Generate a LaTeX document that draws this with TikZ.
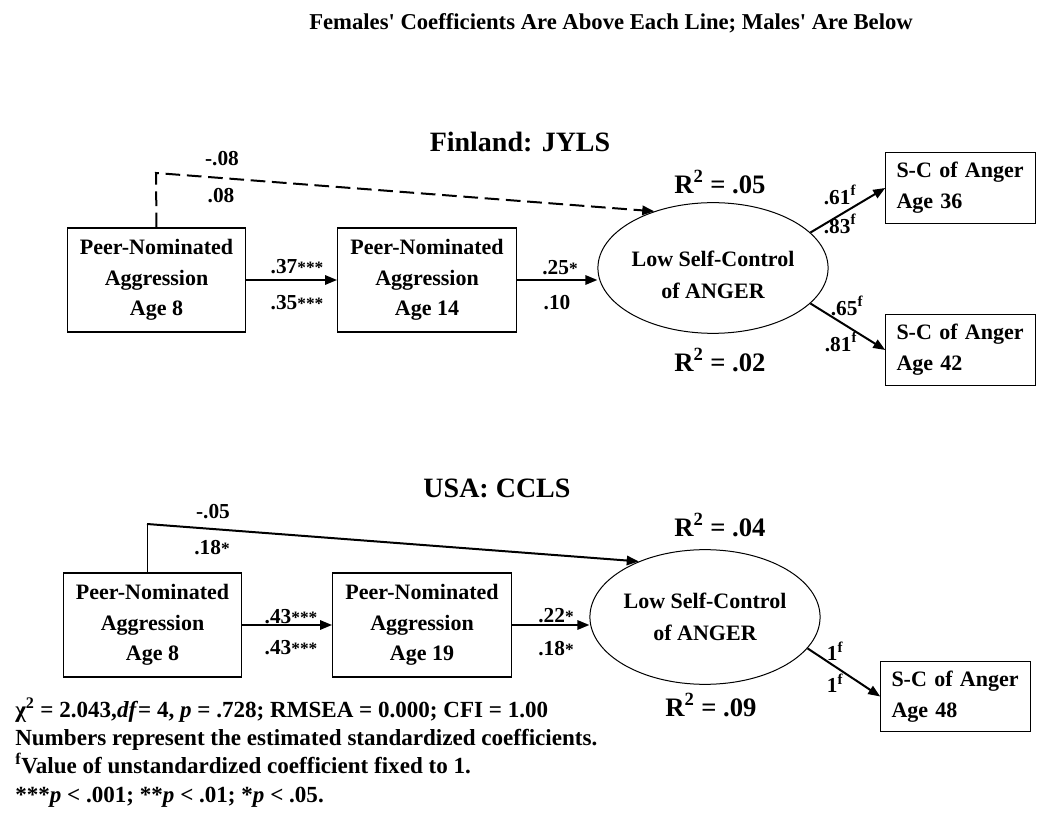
\documentclass[tikz,border=0pt]{standalone}
\usepackage{fontspec}
\setmainfont{Liberation Serif}
\usetikzlibrary{arrows.meta,shapes.geometric}
\newcommand{\sig}[1]{{\fontsize{13}{13}\selectfont #1}}

\begin{document}
\begin{tikzpicture}[x=0.75pt,y=0.75pt,yscale=-1,xscale=1,
  agg/.style={draw,line width=0.9pt,minimum width=134pt,minimum height=78pt,align=center,font=\bfseries\fontsize{16.5}{23}\selectfont},
  outc/.style={draw,line width=0.9pt,minimum width=112pt,minimum height=53pt,text width=96pt,inner xsep=8pt,inner ysep=4pt,align=left,font=\bfseries\fontsize{16.5}{23}\selectfont},
  lat/.style={draw,ellipse,line width=0.75pt,inner sep=0pt,align=center,font=\bfseries\fontsize{16.5}{24}\selectfont},
  coef/.style={inner sep=0.75pt,font=\bfseries\fontsize{16}{19}\selectfont},
  rsq/.style={inner sep=0.75pt,font=\bfseries\fontsize{20}{24}\selectfont},
  head/.style={inner sep=0.75pt,font=\bfseries\fontsize{21}{25}\selectfont},
  note/.style={anchor=base west,inner sep=0pt,font=\bfseries\fontsize{17.3}{21}\selectfont},
  arr/.style={line width=1.5pt,-{Triangle[length=9pt,width=7pt]}}
]
\useasboundingbox (0,0) rectangle (1050,837);

% Text Node
\node[inner sep=0.75pt,font=\bfseries\fontsize{17}{20}\selectfont] (ttl) at (611,23) {Females\textquotesingle{} Coefficients Are Above Each Line; Males\textquotesingle{} Are Below};

%Finland
\node[head] (fin) at (520,142) {Finland: JYLS};
%Shape: Rectangle
\node[agg] (A1) at (156.5,280) {Peer-Nominated\\Aggression\\Age 8};
\node[agg] (B1) at (427,280) {Peer-Nominated\\Aggression\\Age 14};
%Shape: Ellipse
\node[lat,minimum width=144pt,minimum height=98pt] (L1) at (713,268) {\rule{0pt}{22pt}Low Self-Control\\of ANGER};
\node[outc] (C1) at (960.5,188) {S-C of Anger\\Age 36};
\node[outc] (D1) at (960.5,350) {S-C of Anger\\Age 42};

%Straight Lines
\coordinate (k1) at (156,173);
\draw[arr,dash pattern=on 11pt off 5pt] (A1.north) -- (k1) -- (L1.136);
\draw[arr] (A1) -- (B1);
\draw[arr] (B1.east) -- (B1.east -| L1.west);
\draw[arr] (L1.20) -- (C1.west);
\draw[arr] (L1.-20) -- (D1.west);

% Text Node
\node[coef] (f1) at (222,159) {-.08};
\node[coef] (m1) at (221,196) {.08};
\node[coef] (f2) at (297,267) {.37\sig{***}};
\node[coef] (m2) at (297,303) {.35\sig{***}};
\node[coef] (f3) at (560,268) {.25\sig{*}};
\node[coef] (m3) at (557,303) {.10};
\node[coef] (f4) at (840,195) {.61\textsuperscript{f}};
\node[coef] (m4) at (840,224) {.83\textsuperscript{f}};
\node[coef] (f5) at (847,306) {.65\textsuperscript{f}};
\node[coef] (m5) at (841,342) {.81\textsuperscript{f}};
\node[rsq] (r1) at (720,182) {R\textsuperscript{2} = .05};
\node[rsq] (r2) at (720,360) {R\textsuperscript{2} = .02};

%USA
\node[head] (usa) at (497,488) {USA: CCLS};
%Shape: Rectangle
\node[agg] (A2) at (152.5,625) {Peer-Nominated\\Aggression\\Age 8};
\node[agg] (B2) at (422,625) {Peer-Nominated\\Aggression\\Age 19};
%Shape: Ellipse
\node[lat,minimum width=138pt,minimum height=101pt] (L2) at (705,617) {Low Self-Control\\of ANGER};
\node[outc] (C2) at (955.5,696.5) {S-C of Anger\\Age 48};

%Straight Lines
\coordinate (k2) at (147,524);
\draw[line width=0.75pt] (k2 |- A2.north) -- (k2);
\draw[arr] (k2) -- (L2.140);
\draw[arr] (A2) -- (B2);
\draw[arr] (B2.east) -- (B2.east -| L2.west);
\draw[arr] (L2.-17) -- (C2.west);

% Text Node
\node[coef] (f6) at (213,512) {-.05};
\node[coef] (m6) at (212,548) {.18\sig{*}};
\node[coef] (f7) at (291,617) {.43\sig{***}};
\node[coef] (m7) at (291,648) {.43\sig{***}};
\node[coef] (f8) at (556,616) {.22\sig{*}};
\node[coef] (m8) at (556,649) {.18\sig{*}};
\node[coef] (f9) at (835,651) {1\textsuperscript{f}};
\node[coef] (m9) at (835,683) {1\textsuperscript{f}};
\node[rsq] (r3) at (720,525) {R\textsuperscript{2} = .04};
\node[rsq] (r4) at (711,705) {R\textsuperscript{2} = .09};

% Notes
\node[note] (n1) at (15,717) {χ\textsuperscript{2} = 2.043,\textit{df}= 4, \textit{p} = .728; RMSEA = 0.000; CFI = 1.00};
\node[note] (n2) at (15,745) {Numbers represent the estimated standardized coefficients.};
\node[note] (n3) at (15,773) {\textsuperscript{f}Value of unstandardized coefficient fixed to 1.};
\node[note] (n4) at (15,802) {***\textit{p} < .001; **\textit{p} < .01; *\textit{p} < .05.};

\end{tikzpicture}
\end{document}
